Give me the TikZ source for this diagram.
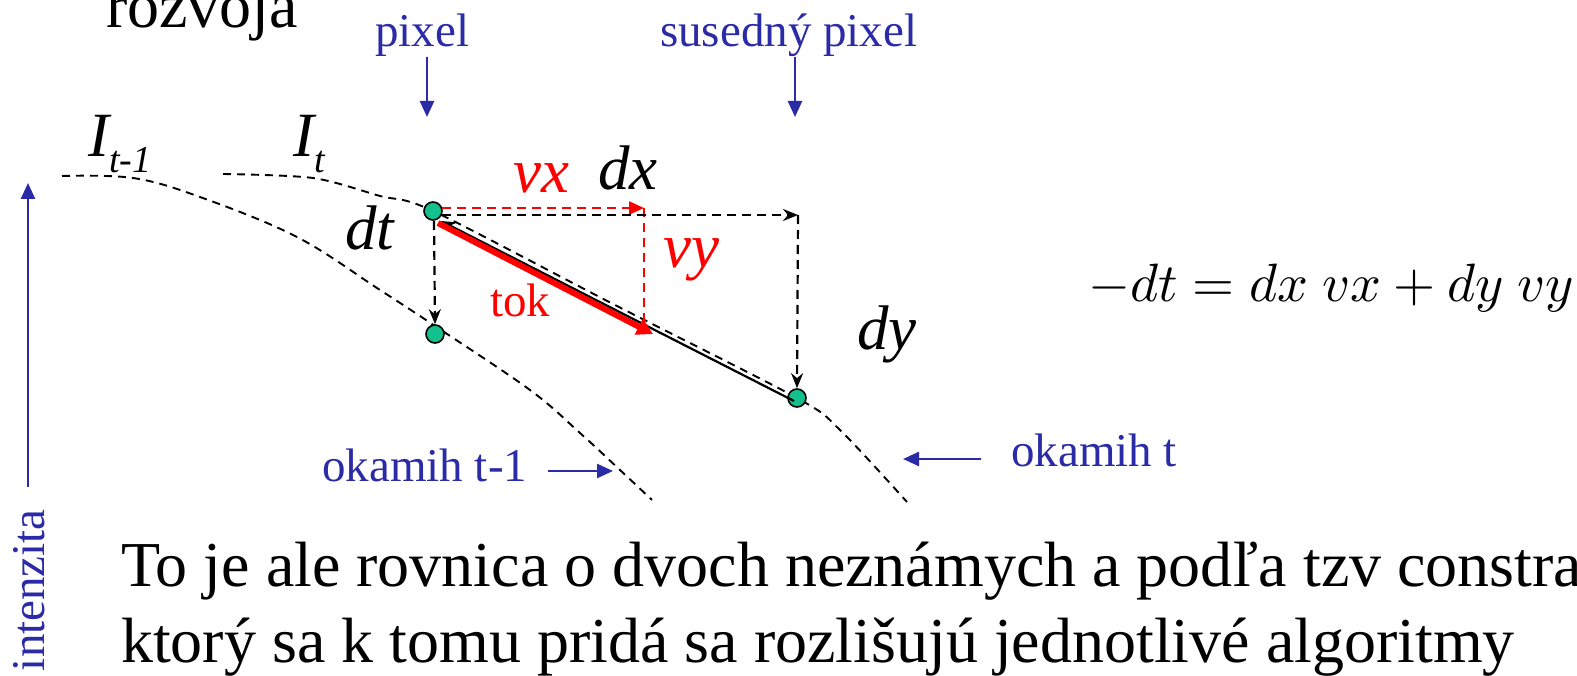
\documentclass[tikz,border=0pt]{standalone}
\usepackage{fontspec}
\setmainfont{Liberation Serif}
\usetikzlibrary{arrows.meta}
\definecolor{ofnavy}{HTML}{2B2BA8}
\definecolor{ofteal}{HTML}{14C08E}
\definecolor{ofred} {HTML}{FF0000}
\newcommand{\ofsub}[1]{\raisebox{-16pt}{\fontsize{38}{38}\selectfont #1}}
\tikzset{
  oftext/.style={inner sep=0pt, anchor=base west, font=\fontsize{64}{64}\selectfont},
  ofsmall/.style={oftext, font=\fontsize{47}{47}\selectfont, text=ofnavy},
  ofvar/.style={oftext, font=\fontsize{63}{63}\selectfont\itshape},
  ofdot/.style={circle, draw=black, line width=1.6pt, fill=ofteal,
                minimum size=18pt, inner sep=0pt},
  ofcurve/.style={draw=black, line width=1.9pt, dash pattern=on 8pt off 6pt},
  ofpointer/.style={draw=ofnavy, line width=2.5pt, -{Triangle[length=16pt,width=14pt]}},
  ofdash/.style={draw=black, line width=2.2pt, dash pattern=on 9pt off 6pt,
                 -{Stealth[length=15pt,width=12pt]}},
  ofreddash/.style={ofdash, draw=ofred, -{Triangle[length=15pt,width=13pt]}},
}

\begin{document}
\begin{tikzpicture}[x=1pt,y=-1pt]
  \useasboundingbox (0,0) rectangle (1577,676);
  % points on the two profiles
  \coordinate (px)   at (433,211);
  \coordinate (prev) at (435,334);
  \coordinate (nb)   at (797,398);
  \draw[ofcurve] plot[smooth,tension=0.6] coordinates
    {(62,176) (133,178) (200,197) (297,237) (380,290) (435,326) (530,390) (580,433) (620,470) (652,500)};
  \draw[ofcurve] plot[smooth,tension=0.5] coordinates
    {(223,174) (313,178) (380,196) (px) (615,305) (nb) (840,430) (907,502)};
  \node[ofdot] (pxdot)   at (px)   {};
  \node[ofdot] (prevdot) at (prev) {};
  \node[ofdot] (nbdot)   at (nb)   {};

  % labels
  \node[oftext] (title) at (106,28) {rozvoja};
  \node[ofsmall] (pixlab) at (375,47) {pixel};
  \node[ofsmall] (nblab)  at (660,47) {susedný pixel};
  \node[ofvar] (itprev) at (88,157)  {I\ofsub{t-1}};
  \node[ofvar] (itcur)  at (293,157) {I\ofsub{t}};
  \node[ofvar, text=ofred] (vxlab) at (513,193) {vx};
  \node[ofvar] (dxlab) at (598,190) {dx};
  \node[ofvar] (dtlab) at (345,250) {dt};
  \node[ofvar, text=ofred] (vylab) at (663,268) {vy};
  \node[ofvar] (dylab) at (857,349) {dy};
  \node[ofsmall, text=ofred] (toklab) at (490,317) {tok};
  \node[inner sep=0pt, anchor=base west, scale=5.4] (eq) at (1087,302)
    {$-dt = dx\ vx + dy\ vy$};
  \node[ofsmall] (oldlab) at (322,481) {okamih t-1};
  \node[ofsmall] (newlab) at (1011,466) {okamih t};
  \node[ofsmall, rotate=90, anchor=base east] (axlab) at (44,509) {intenzita};
  \node[oftext] (line1) at (121,586) {To je ale rovnica o dvoch neznámych a podľa tzv constra};
  \node[oftext] (line2) at (121,662) {ktorý sa k tomu pridá sa rozlišujú jednotlivé algoritmy};

  % blue pointers
  \coordinate (pixtip) at (427,117);
  \coordinate (nbtip)  at (795,117);
  \draw[ofpointer] (427,57) -- (pixtip);
  \draw[ofpointer] (795,57) -- (nbtip);
  \coordinate (axbot) at (28,487);
  \coordinate (axtop) at (28,183);
  \draw[ofpointer] (axbot) -- (axtop);
  \coordinate (oldtip) at (613,471);
  \draw[ofpointer] (548,471) -- (oldtip);
  \coordinate (newtip) at (903,459);
  \draw[ofpointer] (981,459) -- (newtip);

  % flow construction
  \coordinate (vxa) at (442,208);
  \coordinate (vxb) at (644,208);
  \coordinate (vyb) at (644,322);
  \coordinate (dxa) at (442,215);
  \coordinate (dxb) at (798,215);
  \draw[ofreddash] (vxa) -- (vxb);
  \draw[ofreddash, -] (vxb) -- (vyb);
  \draw[ofdash] (dxa) -- (dxb);
  \draw[ofdash] (dxb) -- (nbdot.north);
  \draw[ofdash] (434,221) -- (prevdot.north);
  \coordinate (solida) at (794,401);
  \coordinate (solidtip) at (441,221);
  \draw[black, line width=2.2pt, -{Stealth[length=15pt,width=12pt]}] (solida) -- (solidtip);
  \coordinate (toka) at (438,223);
  \coordinate (tokb) at (653,334);
  \draw[ofred, line width=6pt, -{Triangle[length=16pt,width=17pt]}] (toka) -- (tokb);
\end{tikzpicture}
\end{document}
